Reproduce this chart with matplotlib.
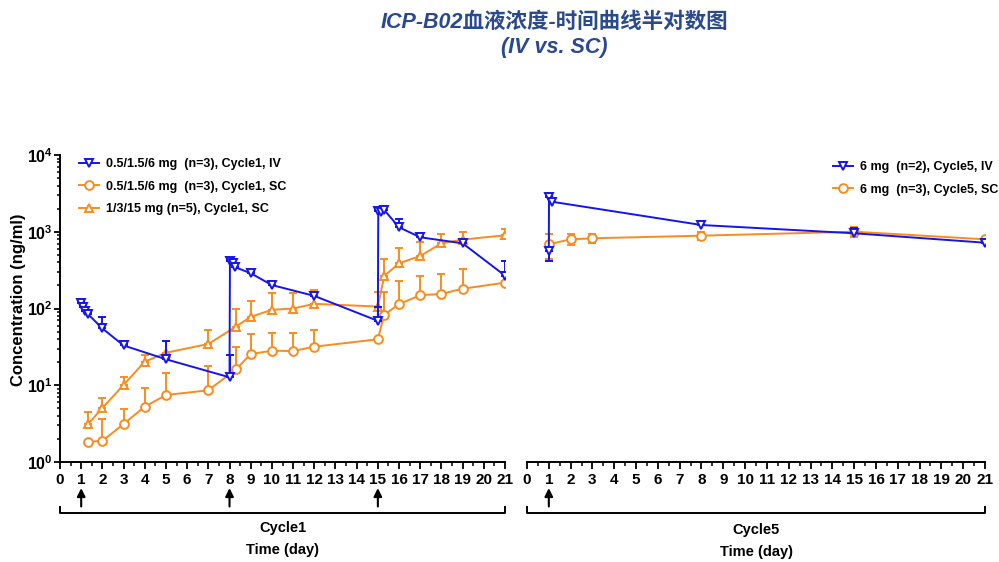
import matplotlib
matplotlib.use("Agg")
import matplotlib.pyplot as plt
import matplotlib.ticker as mticker
import matplotlib.transforms as mtrans

plt.rcParams['font.family'] = ['Liberation Sans', 'DejaVu Sans']
plt.rcParams['font.weight'] = 'bold'
plt.rcParams['mathtext.fontset'] = 'custom'
plt.rcParams['mathtext.rm'] = 'Liberation Sans:bold'
plt.rcParams['mathtext.bf'] = 'Liberation Sans:bold'
plt.rcParams['mathtext.default'] = 'bf'

BLUE = '#1414F0'
ORANGE = '#FA8C1E'

# Cycle 1, 0.5/1.5/6 mg IV
c1_iv_t = [1.0, 1.08, 1.2, 1.33, 2, 3, 5, 8.0, 8.02, 8.17, 8.28, 9, 10, 12,
           15.0, 15.02, 15.13, 15.3, 16, 17, 19, 21]
c1_iv_c = [119, 105, 94, 84, 55, 33, 21.8, 12.7, 416, 395, 344, 288, 202, 146,
           69, 1863, 1792, 1920, 1143, 847, 707, 268]
c1_iv_sd = [7, 6, 5, 4, 23, 2, 16, 12, 20, 0, 0, 20, 0, 0,
            37, 80, 0, 0, 323, 0, 0, 152]

# Cycle 1, 0.5/1.5/6 mg SC
c1_sc_t = [1.33, 2, 3, 4, 5, 7, 8.3, 9, 10, 11, 12, 15, 15.3, 16, 17, 18, 19, 21]
c1_sc_c = [1.84, 1.88, 3.13, 5.26, 7.46, 8.6, 16.1, 25.5, 28.2, 27.9, 31.8, 39.7,
           83, 114, 149, 155, 181, 217]
c1_sc_sd = [0, 1.75, 1.73, 4.0, 6.8, 9.2, 15.7, 21, 19.3, 20.5, 20.7, 0,
            82, 116, 116, 124, 146, 0]

# Cycle 1, 1/3/15 mg SC
c1_hi_t = [1.33, 2, 3, 4, 5, 7, 8.3, 9, 10, 11, 12, 15, 15.3, 16, 17, 18, 19, 21]
c1_hi_c = [3.13, 5.05, 10.1, 20.3, 26.5, 34.5, 58, 78, 96, 100, 115, 106,
           265, 388, 483, 707, 790, 900]
c1_hi_sd = [1.4, 1.7, 2.8, 4.5, 11.5, 18, 40, 48, 61, 57, 59, 59,
            177, 221, 260, 228, 193, 187]

# Cycle 5, 6 mg IV / SC
c5_iv_t = [1.0, 1.01, 1.13, 8, 15, 21]
c5_iv_c = [566, 2812, 2465, 1224, 955, 720]
c5_iv_lo = [146, 0, 0, 0, 0, 0]
c5_iv_hi = [0, 80, 0, 169, 154, 0]

c5_sc_t = [1, 2, 3, 8, 15, 21]
c5_sc_c = [686, 797, 822, 889, 1002, 797]
c5_sc_sd = [249, 135, 100, 100, 135, 70]

c1_doses = [1, 8, 15]
c5_doses = [1]
days = list(range(0, 22))

fig = plt.figure(figsize=(9.99, 5.62), dpi=100)
ax1 = fig.add_axes([60 / 999, 100 / 562, 445 / 999, 307 / 562])
ax2 = fig.add_axes([527 / 999, 100 / 562, 458 / 999, 307 / 562])

style = dict(lw=1.4, ms=6.3, mew=1.4, mfc='white', capsize=2.8, capthick=1.4, elinewidth=1.4)

sc_lo = ax1.errorbar(c1_sc_t, c1_sc_c, yerr=[[0] * len(c1_sc_sd), c1_sc_sd], color=ORANGE,
                     marker='o', zorder=3, **style)
sc_hi = ax1.errorbar(c1_hi_t, c1_hi_c, yerr=[[0] * len(c1_hi_sd), c1_hi_sd], color=ORANGE,
                     marker='^', zorder=3, **style)
iv_1 = ax1.errorbar(c1_iv_t, c1_iv_c, yerr=[[0] * len(c1_iv_sd), c1_iv_sd], color=BLUE,
                    marker='v', zorder=4, **style)

sc_5 = ax2.errorbar(c5_sc_t, c5_sc_c, yerr=c5_sc_sd, color=ORANGE, marker='o',
                    zorder=3, **style)
iv_5 = ax2.errorbar(c5_iv_t, c5_iv_c, yerr=[c5_iv_lo, c5_iv_hi], color=BLUE, marker='v',
                    zorder=4, **style)

for ax in (ax1, ax2):
    ax.set_yscale('log')
    ax.set_ylim(1, 1e4)
    ax.set_xlim(0, 21)
    ax.set_xticks(days)
    ax.set_xticklabels([str(d) for d in days])
    ax.xaxis.set_minor_locator(mticker.MultipleLocator(0.5))
    ax.tick_params(axis='x', which='major', length=5, width=1.3, labelsize=11, pad=3)
    ax.tick_params(axis='x', which='minor', length=3, width=1.1)
    ax.spines['top'].set_visible(False)
    ax.spines['right'].set_visible(False)
    ax.spines['bottom'].set_linewidth(1.4)
    ax.spines['left'].set_linewidth(1.4)
    for lab in ax.get_xticklabels():
        lab.set_fontweight('bold')

ax1.yaxis.set_major_locator(mticker.LogLocator(base=10, numticks=10))
ax1.yaxis.set_minor_locator(mticker.LogLocator(base=10, subs=range(2, 10), numticks=10))
ax1.yaxis.set_minor_formatter(mticker.NullFormatter())
ax1.tick_params(axis='y', which='major', length=4, width=1.3, labelsize=11.5, pad=1)
ax1.tick_params(axis='y', which='minor', length=2.5, width=1.1)
ax1.set_ylabel('Concentration (ng/ml)', fontsize=12, fontweight='bold')
ax1.yaxis.set_label_coords(-0.076, 0.53)

ax2.spines['left'].set_visible(False)
ax2.tick_params(axis='y', which='both', left=False, labelleft=False)

# dose arrows and cycle brackets under each axis
def cycle_marks(ax, doses, name, y_off):
    tr = mtrans.blended_transform_factory(ax.transData, ax.transAxes)
    for d in doses:
        ax.annotate('', xy=(d, -0.085), xycoords=tr, xytext=(d, -0.145), textcoords=tr,
                    arrowprops=dict(arrowstyle='-|>', color='black', lw=1.5,
                                    mutation_scale=12, shrinkA=0, shrinkB=0))
    ax.plot([0, 0, 21, 21], [-0.147, -0.166, -0.166, -0.147], color='black', lw=1.4,
            transform=tr, clip_on=False)
    ax.text(0.5, -0.215 + y_off, name, transform=ax.transAxes, ha='center', va='center',
            fontsize=10.5, fontweight='bold')
    ax.text(0.5, -0.287 + y_off, 'Time (day)', transform=ax.transAxes, ha='center',
            va='center', fontsize=10.5, fontweight='bold')

cycle_marks(ax1, c1_doses, 'Cycle1', 0)
cycle_marks(ax2, c5_doses, 'Cycle5', -0.006)

leg_kw = dict(loc='upper left', bbox_transform=fig.transFigure, frameon=False,
              prop={'size': 9, 'weight': 'bold'}, handlelength=1.6,
              handletextpad=0.6, labelspacing=0.85, borderaxespad=0)

ax1.legend([iv_1[0], sc_lo[0], sc_hi[0]],
           ['0.5/1.5/6 mg  (n=3), Cycle1, IV', '0.5/1.5/6 mg  (n=3), Cycle1, SC',
            '1/3/15 mg (n=5), Cycle1, SC'],
           bbox_to_anchor=(74 / 999, 1 - 153 / 562), **leg_kw)
ax2.legend([iv_5[0], sc_5[0]],
           ['6 mg  (n=2), Cycle5, IV', '6 mg  (n=3), Cycle5, SC'],
           bbox_to_anchor=(828 / 999, 1 - 156 / 562), **leg_kw)

title_font = ['Liberation Sans', 'Noto Sans CJK SC']
fig.text(554 / 999, 1 - 22 / 562, 'ICP-B02血液浓度-时间曲线半对数图', ha='center', va='center',
         fontsize=15.5, fontweight='bold', fontstyle='italic', color='#2B4A8E', family=title_font)
fig.text(554 / 999, 1 - 48 / 562, '(IV vs. SC)', ha='center', va='center',
         fontsize=15.5, fontweight='bold', fontstyle='italic', color='#2B4A8E', family=title_font)

fig.savefig('out.png', dpi=100)
